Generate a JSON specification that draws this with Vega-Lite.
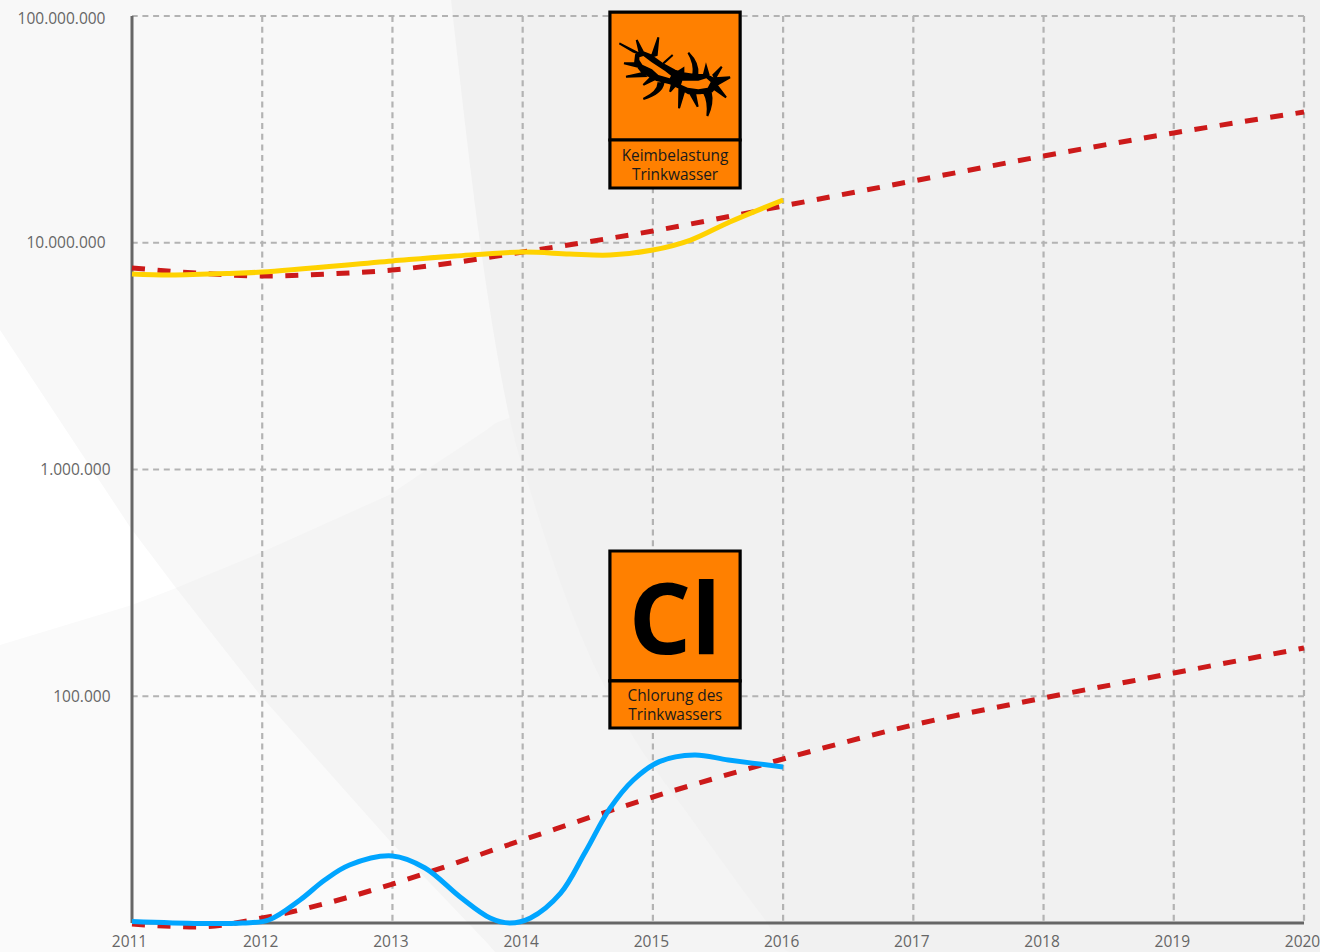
{
"$schema":"https://vega.github.io/schema/vega-lite/v6.json",
"width":1172,"height":907,
"autosize":{"type":"none"},
"padding":{"left":132,"top":16,"right":16,"bottom":29},
"background":"#ffffff",
"config":{"view":{"stroke":null},"font":"Open Sans"},
"datasets":{
"backdrop":[
{"part":"a","year":2009.986,"top":117650000,"bottom":4124000},
{"part":"a","year":2010.985,"top":117650000,"bottom":557800},
{"part":"a","year":2011.338,"top":117650000,"bottom":300200},
{"part":"a","year":2011.983,"top":117650000,"bottom":101300},
{"part":"a","year":2012.997,"top":117650000,"bottom":23230},
{"part":"a","year":2013.727,"top":117650000,"bottom":8163},
{"part":"a","year":2013.788,"top":117650000,"bottom":7449},
{"part":"a","year":2020.124,"top":117650000,"bottom":7449},
{"part":"b","year":2009.986,"top":168300,"bottom":7449},
{"part":"b","year":2011,"top":252600,"bottom":7449},
{"part":"b","year":2011.338,"top":300200,"bottom":7449},
{"part":"b","year":2011.983,"top":101300,"bottom":7449},
{"part":"b","year":2012.997,"top":23230,"bottom":7449},
{"part":"b","year":2013.727,"top":8163,"bottom":7449},
{"part":"b","year":2013.788,"top":7449,"bottom":7449},
{"part":"c","year":2011.338,"top":300200,"bottom":300200},
{"part":"c","year":2011.983,"top":428300,"bottom":101300},
{"part":"c","year":2012.974,"top":771900,"bottom":23230},
{"part":"c","year":2013.727,"top":1500000,"bottom":8163},
{"part":"c","year":2013.788,"top":1600000,"bottom":7449},
{"part":"c","year":2013.911,"top":1703900,"bottom":7449},
{"part":"c","year":2016.054,"top":1703900,"bottom":7449},
{"part":"d","year":2013.45,"top":117650000,"bottom":117650000},
{"part":"d","year":2013.673,"top":117650000,"bottom":9975000},
{"part":"d","year":2013.903,"top":117650000,"bottom":1653000},
{"part":"d","year":2014.08,"top":117650000,"bottom":733800},
{"part":"d","year":2014.495,"top":117650000,"bottom":160000},
{"part":"d","year":2014.817,"top":117650000,"bottom":70980},
{"part":"d","year":2015.286,"top":117650000,"bottom":29340},
{"part":"d","year":2015.846,"top":117650000,"bottom":10630},
{"part":"d","year":2016.054,"top":117650000,"bottom":7449},
{"part":"d","year":2020.124,"top":117650000,"bottom":7449}
],
"years":[{"year":2012},{"year":2013},{"year":2014},{"year":2015},{"year":2016},{"year":2017},{"year":2018},{"year":2019},{"year":2020}],
"levels":[{"level":100000},{"level":1000000},{"level":10000000},{"level":100000000}],
"trend":[
{"series":"Keime","year":2011,"value":7740000},{"series":"Keime","year":2011.5,"value":7350000},{"series":"Keime","year":2012,"value":7135000},{"series":"Keime","year":2012.5,"value":7280000},{"series":"Keime","year":2013,"value":7580000},{"series":"Keime","year":2013.5,"value":8220000},{"series":"Keime","year":2014,"value":9100000},{"series":"Keime","year":2015,"value":11270000},{"series":"Keime","year":2016,"value":14530000},{"series":"Keime","year":2017,"value":18730000},{"series":"Keime","year":2018,"value":24130000},{"series":"Keime","year":2019,"value":30500000},{"series":"Keime","year":2020,"value":37700000},
{"series":"Chlor","year":2011,"value":9900},{"series":"Chlor","year":2011.5,"value":9600},{"series":"Chlor","year":2012,"value":10520},{"series":"Chlor","year":2012.5,"value":12250},{"series":"Chlor","year":2013,"value":14860},{"series":"Chlor","year":2014,"value":23230},{"series":"Chlor","year":2015,"value":35950},{"series":"Chlor","year":2016,"value":52880},{"series":"Chlor","year":2017,"value":74700},{"series":"Chlor","year":2018,"value":98200},{"series":"Chlor","year":2019,"value":126600},{"series":"Chlor","year":2020,"value":163200}
],
"germs":[
{"year":2011,"value":7283000},{"year":2011.29,"value":7209000},{"year":2011.75,"value":7320000},{"year":2012,"value":7430000},{"year":2013,"value":8310000},{"year":2013.48,"value":8740000},{"year":2014,"value":9100000},{"year":2014.36,"value":8920000},{"year":2014.67,"value":8830000},{"year":2015,"value":9290000},{"year":2015.29,"value":10280000},{"year":2015.59,"value":12350000},{"year":2016,"value":15430000}
],
"chlorine":[
{"year":2011,"value":10150},{"year":2011.52,"value":9950},{"year":2011.85,"value":10000},{"year":2012.05,"value":10310},{"year":2012.29,"value":12630},{"year":2012.48,"value":15470},{"year":2012.67,"value":18020},{"year":2013,"value":19750},{"year":2013.25,"value":17480},{"year":2013.52,"value":13020},{"year":2013.75,"value":10520},{"year":2013.9,"value":10000},{"year":2014.06,"value":10520},{"year":2014.29,"value":13500},{"year":2014.48,"value":20500},{"year":2014.67,"value":32000},{"year":2014.85,"value":42730},{"year":2015.05,"value":51500},{"year":2015.32,"value":55070},{"year":2015.58,"value":52350},{"year":2016,"value":48750}
],
"plates":[
{"from":2014.67,"to":2015.67,"low":28390000,"high":104100000},
{"from":2014.67,"to":2015.67,"low":17440000,"high":28390000},
{"from":2014.67,"to":2015.67,"low":116800,"high":437100},
{"from":2014.67,"to":2015.67,"low":72440,"high":116800}
],
"captions":[
{"year":2015.17,"value":24140000,"text":"Keimbelastung"},
{"year":2015.17,"value":19900000,"text":"Trinkwasser"},
{"year":2015.17,"value":100300,"text":"Chlorung des"},
{"year":2015.17,"value":82700,"text":"Trinkwassers"}
],
"symbol":[{"year":2015.17,"value":206000,"text":"Cl"}],
"germ":[{"year":2015.17,"value":54940000}]
},
"layer":[
{"data":{"name":"backdrop"},"transform":[{"filter":"datum.part==='a'"}],"mark":{"type":"area","fill":"#f8f8f8","clip":false},
"encoding":{"x":{"field":"year","type":"quantitative","title":null,"scale":{"domain":[2011,2020],"nice":false,"zero":false},
"axis":{"values":[2011,2012,2013,2014,2015,2016,2017,2018,2019,2020],"format":"d","grid":false,"domain":false,"ticks":false,"zindex":1,"labelColor":"#666666","labelFont":"Open Sans","labelFontSize":15.5,"labelPadding":11,"labelFlush":false,"labelOverlap":false,"labelOffset":{"condition":{"test":"datum.value===2011","value":-3},"value":-2}}},
"y":{"field":"top","type":"quantitative","title":null,"scale":{"type":"log","domain":[10000,100000000],"nice":false,"zero":false},
"axis":{"values":[100000,1000000,10000000,100000000],"labelExpr":"replace(format(datum.value, ','), /,/g, '.')","grid":false,"domain":false,"ticks":false,"zindex":1,"labelColor":"#666666","labelFont":"Open Sans","labelFontSize":15.5,"labelPadding":{"condition":{"test":"datum.value>=10000000","value":27},"value":22},"labelOffset":{"condition":{"test":"datum.value===100000000","value":2},"value":0},"labelFlush":false,"labelOverlap":false}},
"y2":{"field":"bottom"}}},
{"data":{"name":"backdrop"},"transform":[{"filter":"datum.part==='b'"}],"mark":{"type":"area","fill":"#fafafa","clip":false},
"encoding":{"x":{"field":"year","type":"quantitative"},"y":{"field":"top","type":"quantitative"},"y2":{"field":"bottom"}}},
{"data":{"name":"backdrop"},"transform":[{"filter":"datum.part==='c'"}],"mark":{"type":"area","fill":"#f4f4f4","clip":false},
"encoding":{"x":{"field":"year","type":"quantitative"},"y":{"field":"top","type":"quantitative"},"y2":{"field":"bottom"}}},
{"data":{"name":"backdrop"},"transform":[{"filter":"datum.part==='d'"}],"mark":{"type":"area","fill":"#f1f1f1","clip":false,"interpolate":"monotone"},
"encoding":{"x":{"field":"year","type":"quantitative"},"y":{"field":"top","type":"quantitative"},"y2":{"field":"bottom"}}},
{"data":{"name":"years"},"mark":{"type":"rule","stroke":"#b3b3b3","strokeWidth":2.2,"strokeDash":[6,4.7]},
"encoding":{"x":{"field":"year","type":"quantitative"}}},
{"data":{"name":"levels"},"mark":{"type":"rule","stroke":"#b3b3b3","strokeWidth":2.2,"strokeDash":[6,4.7]},
"encoding":{"y":{"field":"level","type":"quantitative"}}},
{"data":{"values":[{"year":2011}]},"mark":{"type":"rule","stroke":"#666666","strokeWidth":3},
"encoding":{"x":{"field":"year","type":"quantitative"}}},
{"data":{"values":[{"level":10000}]},"mark":{"type":"rule","stroke":"#666666","strokeWidth":3},
"encoding":{"y":{"field":"level","type":"quantitative"}}},
{"data":{"name":"trend"},"mark":{"type":"line","stroke":"#cc1a1a","strokeWidth":5,"strokeDash":[13,12.6],"interpolate":"monotone","clip":false},
"encoding":{"x":{"field":"year","type":"quantitative"},"y":{"field":"value","type":"quantitative"},"detail":{"field":"series"}}},
{"data":{"name":"germs"},"mark":{"type":"line","stroke":"#ffd200","strokeWidth":5,"interpolate":"catmull-rom","clip":false},
"encoding":{"x":{"field":"year","type":"quantitative"},"y":{"field":"value","type":"quantitative"}}},
{"data":{"name":"chlorine"},"mark":{"type":"line","stroke":"#00a5ff","strokeWidth":5,"interpolate":"catmull-rom","clip":false},
"encoding":{"x":{"field":"year","type":"quantitative"},"y":{"field":"value","type":"quantitative"}}},
{"data":{"name":"plates"},"mark":{"type":"rect","fill":"#ff8000","stroke":"#000000","strokeWidth":3.2,"clip":false},
"encoding":{"x":{"field":"from","type":"quantitative"},"x2":{"field":"to"},"y":{"field":"low","type":"quantitative"},"y2":{"field":"high"}}},
{"data":{"name":"captions"},"mark":{"type":"text","font":"Open Sans","fontSize":15.4,"color":"#1a1a1a","align":"center","baseline":"middle"},
"encoding":{"x":{"field":"year","type":"quantitative"},"y":{"field":"value","type":"quantitative"},"text":{"field":"text"}}},
{"data":{"name":"symbol"},"mark":{"type":"text","font":"Open Sans","fontSize":98,"fontWeight":700,"color":"#000000","align":"center","baseline":"middle"},
"encoding":{"x":{"field":"year","type":"quantitative"},"y":{"field":"value","type":"quantitative"},"text":{"field":"text"}}},
{"data":{"name":"germ"},"mark":{"type":"point","filled":true,"fill":"#000000","stroke":"#000000","strokeWidth":2,"opacity":1,"size":0.4444,
"shape":"M-117,-60 L-100,-70 L-75,-60 L-40,-35 L0,-13 L25,-5 L60,0 L95,0 L120,13 L125,33 L110,50 L75,55 L40,55 L10,37 L-15,25 L-55,15 L-75,5 L-100,-10 L-120,-35 Z M-125,-70 L-167,-95 L-100,-60 Z M-107,-70 L-115,-105 L-95,-67 Z M-70,-55 L-50,-113 L-55,-60 Z M-40,-30 L-7,-60 L-30,-40 Z M55,0 Q60,-35 40,-67 Q72,-35 67,0 Z M87,-3 L93,-27 L100,-3 Z M115,0 L140,-25 L120,10 Z M120,10 L165,7 L125,30 Z M115,40 L153,67 L125,30 Z M87,53 Q102,80 97,123 Q115,85 107,50 Z M45,55 L68,95 L60,55 Z M13,40 L12,100 L27,50 Z M-10,30 L-15,50 L0,33 Z M-50,25 Q-50,50 -95,72 Q-40,55 -35,25 Z M-75,10 L-95,30 L-65,15 Z M-100,-5 L-147,5 L-90,3 Z M-120,-35 L-153,-35 L-113,-25 Z M10,-10 L25,-20 L25,-5 Z"},
"encoding":{"x":{"field":"year","type":"quantitative"},"y":{"field":"value","type":"quantitative"}}},
{"data":{"name":"germ"},"mark":{"type":"point","filled":true,"fill":"#ff8000","stroke":null,"opacity":1,"size":0.4444,
"shape":"M-107,-53 L-95,-57 L-70,-38 L-30,-12 L-12,2 L-16,10 L-50,0 L-69,-17 L-98,-31 L-107,-45 Z M22,17 L45,17 L70,17 L94,10 L107,21 L98,38 L70,43 L38,38 L18,29 Z"},
"encoding":{"x":{"field":"year","type":"quantitative"},"y":{"field":"value","type":"quantitative"}}}
]
}
